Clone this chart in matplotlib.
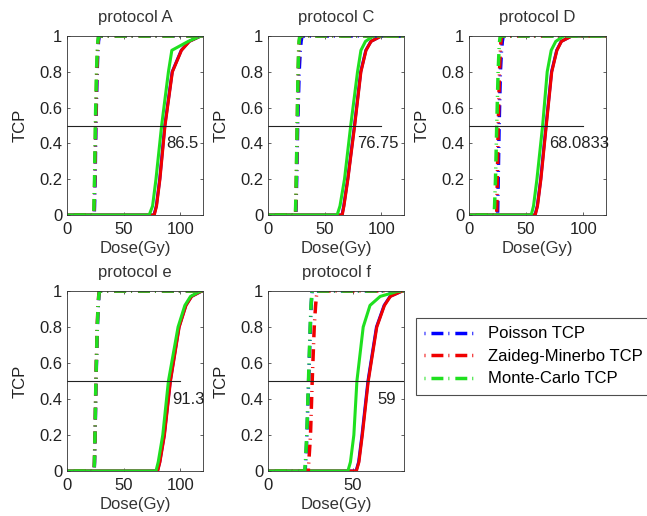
import matplotlib
matplotlib.use('Agg')
import matplotlib.pyplot as plt

# общие уровни TCP, для каждой кривой задаём дозу, при которой достигается уровень
tcp_levels = [0, 0, 0.05, 0.2, 0.5, 0.8, 0.92, 0.97, 1, 1]

protocols = ['protocol A', 'protocol C', 'protocol D', 'protocol e', 'protocol f']
x_limits = [120, 120, 120, 120, 80]
tcp50_labels = ['86.5', '76.75', '68.0833', '91.3', '59']
tcp50_label_x = [87.5, 79, 70, 92.6, 64.5]

# крутые кривые (штрих-пунктир) - Poisson / Zaideg-Minerbo / Monte-Carlo
poisson_steep = [
    [0, 24.0, 24.3, 24.8, 25.5, 26.6, 27.3, 27.8, 28.5, 120],
    [0, 24.5, 24.8, 25.3, 26.2, 27.5, 28.5, 29.2, 30.0, 120],
    [0, 25.0, 25.2, 25.6, 26.4, 27.5, 28.5, 29.2, 30.0, 120],
    [0, 24.0, 24.3, 24.8, 25.6, 26.8, 27.6, 28.1, 28.7, 120],
    [0, 21.8, 22.2, 22.9, 23.9, 24.9, 25.4, 25.7, 26.0, 120],
]
zm_steep = [
    [0, 23.8, 24.0, 24.5, 25.3, 26.3, 27.0, 27.5, 28.0, 120],
    [0, 24.3, 24.5, 25.0, 25.8, 26.6, 27.2, 27.6, 28.3, 120],
    [0, 24.2, 24.4, 24.8, 25.6, 26.7, 27.5, 28.0, 28.7, 120],
    [0, 23.9, 24.2, 24.7, 25.5, 26.6, 27.4, 27.9, 28.5, 120],
    [0, 23.7, 24.0, 25.0, 26.0, 27.2, 28.0, 28.5, 29.0, 120],
]
mc_steep = [
    [0, 23.6, 23.8, 24.3, 25.0, 26.0, 26.7, 27.2, 27.8, 120],
    [0, 24.2, 24.4, 24.9, 25.7, 26.5, 27.0, 27.4, 28.0, 120],
    [0, 22.0, 22.4, 23.2, 24.3, 25.5, 26.3, 26.8, 27.3, 120],
    [0, 23.9, 24.2, 24.7, 25.5, 26.7, 27.5, 28.0, 28.6, 120],
    [0, 21.6, 22.0, 22.8, 23.8, 24.8, 25.3, 25.7, 26.0, 120],
]

# пологие кривые (сплошные линии)
poisson_flat = [
    [0, 76.8, 78.8, 81.8, 86.3, 92.8, 100.8, 107.8, 118, 120],
    [0, 65.3, 66.8, 70.3, 76.3, 81.8, 86.3, 90.8, 100, 120],
    [0, 57.8, 59.8, 62.8, 67.5, 72.3, 76.8, 80.8, 90, 120],
    [0, 79.8, 81.8, 85.8, 91.1, 98.8, 104.8, 109.8, 119, 120],
    [0, 51.8, 53.3, 55.3, 58.8, 63.8, 68.3, 71.8, 79, 120],
]
zm_flat = [
    [0, 77.0, 79.0, 82.0, 86.5, 93.0, 101.0, 108.0, 118, 120],
    [0, 65.5, 67.0, 70.5, 76.5, 82.0, 86.5, 91.0, 100, 120],
    [0, 58.0, 60.0, 63.0, 67.7, 72.5, 77.0, 81.0, 90, 120],
    [0, 80.0, 82.0, 86.0, 91.3, 99.0, 105.0, 110.0, 119, 120],
    [0, 52.0, 53.5, 55.5, 59.0, 64.0, 68.5, 72.0, 79, 120],
]
mc_flat = [
    [0, 72.5, 75.5, 78.5, 83.5, 89.5, 92.5, 107.0, 118, 120],
    [0, 61.0, 63.5, 67.5, 73.0, 79.0, 82.0, 86.0, 93, 120],
    [0, 54.5, 56.5, 59.5, 64.5, 68.5, 72.0, 76.0, 83, 120],
    [0, 78.5, 80.5, 84.5, 89.5, 98.0, 104.0, 109.0, 118, 120],
    [0, 47.0, 48.5, 50.5, 52.3, 56.0, 60.0, 66.0, 77, 120],
]

series_names = ['Poisson TCP', 'Zaideg-Minerbo TCP', 'Monte-Carlo TCP']
series_colors = ['#0000ff', '#f00000', '#1fe01f']

# положение осей в пикселях (left, top, width, height) для картинки 647x516
axes_px = [(67, 36, 136, 179), (268, 36, 136, 179), (469, 36, 137, 179),
           (67, 291, 136, 180), (268, 291, 136, 180)]

W, H = 647, 516
FS = 12
plt.rcParams['font.family'] = ['Liberation Sans', 'DejaVu Sans']
plt.rcParams['lines.scale_dashes'] = False

# точка, пробел, штрих, пробел - как '-.' в MATLAB
dash_dot = (0, (0.7, 4.3, 8.6, 3.6))


def draw_panel(ax, i):
    """
    Draw one protocol panel.
    """
    steep = [poisson_steep[i], zm_steep[i], mc_steep[i]]
    flat = [poisson_flat[i], zm_flat[i], mc_flat[i]]
    handles = []
    # сначала сплошные, потом штрих-пунктир
    for dose, color in zip(flat, series_colors):
        ax.plot(dose, tcp_levels, color=color, lw=2.2, solid_joinstyle='round')
    for dose, color, name in zip(steep, series_colors, series_names):
        h, = ax.plot(dose, tcp_levels, color=color, lw=2.5, linestyle=dash_dot,
                     dash_capstyle='butt', label=name)
        handles.append(h)

    # линия TCP = 0.5 и подпись дозы
    ax.plot([0, 100], [0.5, 0.5], color='#222222', lw=0.8)
    ax.text(tcp50_label_x[i], 0.4, tcp50_labels[i], fontsize=FS, va='center', ha='left',
            color='#222222')

    ax.set_xlim(0, x_limits[i])
    ax.set_ylim(0, 1)
    ax.set_xticks([0, 50, 100] if x_limits[i] > 100 else [0, 50])
    ax.set_yticks([0, 0.2, 0.4, 0.6, 0.8, 1])
    ax.set_yticklabels(['0', '0.2', '0.4', '0.6', '0.8', '1'])
    ax.tick_params(direction='in', length=2.5, width=0.5, top=True, right=True,
                   labelsize=FS, colors='#222222')
    ax.tick_params(axis='x', pad=5)
    ax.tick_params(axis='y', pad=3.5)
    for s in ax.spines.values():
        s.set_linewidth(0.6)
        s.set_color('#333333')
    ax.set_title(protocols[i], fontsize=FS, pad=10, color='#333333')
    ax.set_xlabel('Dose(Gy)', fontsize=FS, labelpad=3, color='#333333')
    ax.set_ylabel('TCP', fontsize=FS, labelpad=8, color='#222222')
    return handles


fig = plt.figure(figsize=(W / 100, H / 100), dpi=100)
handles = None
for i, (l, t, w, h) in enumerate(axes_px):
    ax = fig.add_axes([l / W, 1 - (t + h) / H, w / W, h / H])
    hs = draw_panel(ax, i)
    if handles is None:
        handles = hs

# легенда справа снизу, частично выходит за край рисунка
leg = fig.legend(handles, series_names, loc='upper left',
                 bbox_to_anchor=(416 / W, 1 - 318 / H), bbox_transform=fig.transFigure,
                 fontsize=FS, frameon=True, fancybox=False, borderaxespad=0,
                 handlelength=3.05, handletextpad=0.75, labelspacing=0.45, borderpad=0.5)
leg.get_frame().set_edgecolor('#222222')
leg.get_frame().set_linewidth(0.8)

fig.savefig('out.png', dpi=100)
plt.close()
